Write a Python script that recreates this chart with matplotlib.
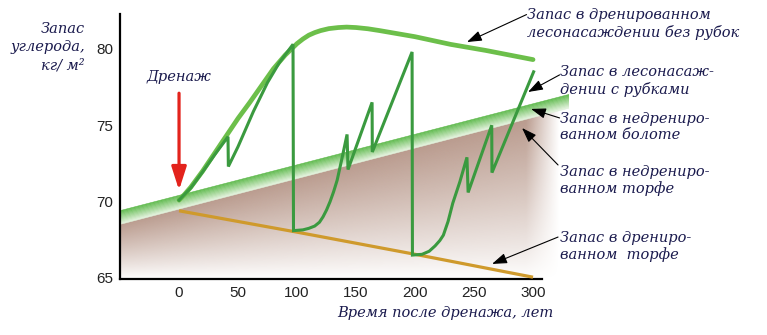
import numpy as np
import matplotlib
matplotlib.use('Agg')
import matplotlib.pyplot as plt
from matplotlib.colors import to_rgb

# years after drainage -> carbon stock, kg/m2
mire_x = [-50, 330]                 # undrained mire (band)
mire_y = [69.0, 76.6]

peat_x = [0, 100, 200, 300]         # drained peat
peat_y = [69.4, 68.0, 66.55, 65.05]

forest_x = [0, 5, 10, 20, 30, 40, 50, 60, 70, 80, 90, 100, 105, 110, 115, 120, 127, 135, 142, 150, 160,
            170, 185, 200, 230, 260, 300]
forest_y = [70.1, 70.5, 70.95, 72.0, 73.15, 74.3, 75.45, 76.5, 77.6, 78.7, 79.6, 80.35, 80.65, 80.9, 81.07,
            81.2, 81.33, 81.4, 81.43, 81.4, 81.32, 81.2, 81.0, 80.8, 80.3, 79.9, 79.3]

cut_x = [0, 5, 10, 20, 30, 41.5, 41.8, 50, 63, 75, 85, 96.6, 97, 105, 110, 115, 119, 122, 125, 128, 131, 134,
         138, 142.4, 143.2, 163.6, 163.8, 197.5, 197.8, 206, 212, 217, 221, 224, 228, 232, 238, 244, 245,
         265, 265.2, 300.5]
cut_y = [70.1, 70.5, 70.9, 71.95, 73.05, 74.25, 72.3, 73.6, 75.9, 77.8, 79.1, 80.3, 68.1, 68.15, 68.25, 68.4,
         68.65, 69.0, 69.45, 70.0, 70.65, 71.4, 72.8, 74.4, 72.1, 76.5, 73.25, 79.8, 66.5, 66.55, 66.75, 67.1,
         67.45, 67.8, 68.7, 69.9, 71.3, 72.9, 70.6, 75.0, 71.9, 78.5]

xticks = [0, 50, 100, 150, 200, 250, 300]
yticks = [65, 70, 75, 80]

TXT = '#1b1b4e'
SERIF = dict(family='DejaVu Serif', style='italic', color=TXT, fontsize=10.5)

fig = plt.figure(figsize=(7.67, 3.35), dpi=100)
ax = fig.add_axes([0.1565, 0.1657, 0.5846, 0.7931])

band_half = 0.45
mx = np.array(mire_x, float)
my = np.array(mire_y, float)

# brown undrained peat, fading downwards and to the right
xs = np.linspace(-50, 330, 500)
ys = np.linspace(64.9, 77, 300)
X, Y = np.meshgrid(xs, ys)
T = np.interp(X, mx, my) - band_half
v = np.clip((Y - 64.9) / (T - 64.9), 0, 1) ** 0.9
h = np.clip((322 - X) / 28, 0, 1)
rgba = np.zeros(Y.shape + (4,))
rgba[..., :3] = to_rgb('#b08d7e')
rgba[..., 3] = 0.88 * v * h
im = ax.imshow(rgba, extent=(-50, 330, 64.9, 77), origin='lower', aspect='auto',
               zorder=1, interpolation='bilinear')
poly = ax.fill_between(xs, 64.9, np.interp(xs, mx, my) - band_half, color='none', lw=0)
im.set_clip_path(poly.get_paths()[0], transform=ax.transData)

# green band of the undrained mire
c_top = np.array(to_rgb('#5cb94a'))
c_bot = np.array(to_rgb('#e6f3e0'))
n = 12
for i in range(n):
    f0, f1 = i / n, (i + 1) / n
    col = c_top + (c_bot - c_top) * (f0 + f1) / 2
    ax.fill_between(mx, my + band_half - 2 * band_half * f0, my + band_half - 2 * band_half * f1,
                    facecolor=col, edgecolor=col, lw=0.4, zorder=2)

ax.plot(peat_x, peat_y, color='#cf9a2c', lw=2.3, zorder=3, solid_capstyle='butt')
ax.plot(forest_x, forest_y, color='#6cbf4a', lw=3.4, zorder=3, solid_capstyle='round')
ax.plot(cut_x, cut_y, color='#3a9a3f', lw=2.2, zorder=4, solid_joinstyle='miter')

# drainage arrow
ax.annotate('', xy=(0, 70.75), xytext=(0, 77.1),
            arrowprops=dict(arrowstyle='-|>,head_length=1.0,head_width=0.32', color='#e3231c',
                            lw=2.3, mutation_scale=14, shrinkA=0, shrinkB=0), zorder=5)
ax.text(0, 78.16, 'Дренаж', ha='center', va='center', **SERIF)

# labels on the right
labels = [
    ('Запас в дренированном\nлесонасаждении без рубок', (294.5, 81.63), (294.5, 82.25), (244, 80.45)),
    ('Запас в лесонасаж-\nдении с рубками', (322.5, 77.9), (322.5, 78.3), (295.8, 77.18)),
    ('Запас в недрениро-\nванном болоте', (322.5, 74.89), (322.5, 75.48), (298.3, 76.07)),
    ('Запас в недрениро-\nванном торфе', (322.5, 71.39), (321.2, 72.4), (290.7, 74.82)),
    ('Запас в дрениро-\nванном  торфе', (322.5, 67.06), (321.2, 67.68), (265.3, 65.92)),
]
for txt, pos, tail, tip in labels:
    ax.text(pos[0], pos[1], txt, ha='left', va='center', linespacing=1.2, clip_on=False, **SERIF)
    ax.annotate('', xy=tip, xytext=tail, annotation_clip=False,
                arrowprops=dict(arrowstyle='-|>,head_length=1.0,head_width=0.35', color='black',
                                lw=0.8, mutation_scale=9, shrinkA=0, shrinkB=0), zorder=6)

ax.set_xlim(-50, 330)
ax.set_ylim(64.9, 82.3)
ax.set_xticks(xticks)
ax.set_yticks(yticks)
ax.tick_params(length=0, labelsize=11, colors='#222222', pad=5)
for lab in ax.get_xticklabels() + ax.get_yticklabels():
    lab.set_family('Liberation Sans')
for s in ['top', 'right']:
    ax.spines[s].set_visible(False)
for s in ['left', 'bottom']:
    ax.spines[s].set_linewidth(1.6)
ax.spines['bottom'].set_bounds(-50, 308)

fig.text(0.1108, 0.8597, 'Запас\nуглерода,\nкг/ м²', ha='right', va='center',
         multialignment='right', linespacing=1.37, **SERIF)
fig.text(0.580, 0.0657, 'Время после дренажа, лет', ha='center', va='center', **SERIF)

fig.savefig('out.png', dpi=100)
